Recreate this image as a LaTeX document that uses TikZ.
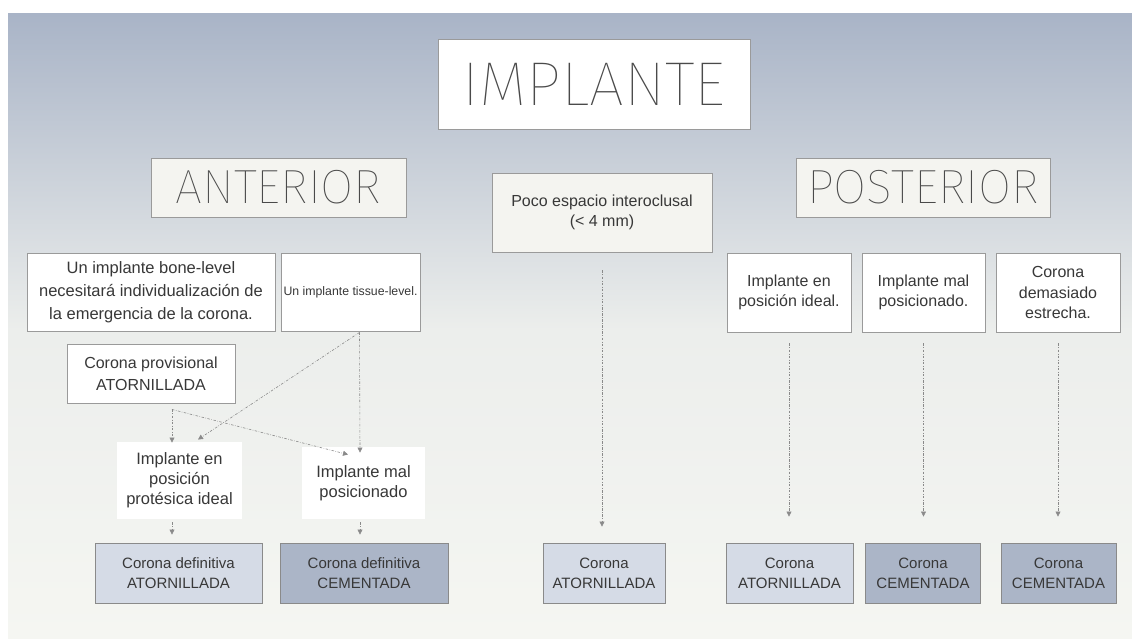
\documentclass[tikz,border=0pt]{standalone}
\usepackage{fontspec}
\usepackage{graphicx}
\setmainfont{Liberation Sans}
\IfFontExistsTF{Fira Sans Thin}{\newfontfamily\thinfont{Fira Sans Thin}}{%
  \IfFontExistsTF{FiraSans-Thin.otf}{\newfontfamily\thinfont{FiraSans-Thin.otf}}{\newfontfamily\thinfont{DejaVu Sans}}}
\usetikzlibrary{arrows.meta, positioning, calc}
\definecolor{bgtop}{HTML}{A9B4C7}
\definecolor{bgmid}{HTML}{ECEEEC}
\definecolor{bgbot}{HTML}{F5F6F2}
\definecolor{boxline}{HTML}{9A9A9A}
\definecolor{offwhite}{HTML}{F4F4F0}
\definecolor{lightblue}{HTML}{D5DBE6}
\definecolor{darkblue}{HTML}{ABB5C7}
\definecolor{textgray}{HTML}{383838}
\definecolor{titlegray}{HTML}{4A4A4A}
\definecolor{arrowgray}{HTML}{8A8A8A}

\tikzset{
  box/.style={draw=boxline, line width=0.9pt, fill=white, align=center, text=textgray,
    inner sep=0pt, font=\fontsize{16}{20.5}\selectfont},
  titlebox/.style={box, fill=offwhite, text=titlegray, font=\thinfont\fontsize{48}{48}\selectfont},
  plain/.style={box, draw=none, font=\fontsize{16.5}{20}\selectfont},
  screwed/.style={box, fill=lightblue, draw=arrowgray, font=\fontsize{15}{20}\selectfont},
  cemented/.style={box, fill=darkblue, draw=arrowgray, font=\fontsize{15}{20}\selectfont},
  conn/.style={->, arrowgray, line width=0.6pt, dash pattern=on 2.5pt off 1.5pt on 0.6pt off 1.5pt}
}

\begin{document}
\begin{tikzpicture}[x=1pt, y=-1pt, >={Triangle[width=5pt,length=5pt]}]
    \useasboundingbox (0,0) rectangle (1132,639);
    \fill[white] (0,0) rectangle (1132,639);
    \shade[top color=bgtop, bottom color=bgmid] (8,14) rectangle (1132,330);
    \shade[top color=bgmid, bottom color=bgbot] (8,330) rectangle (1132,639);

    \node[titlebox, fill=white, minimum width=312pt, minimum height=90pt,
          font=\thinfont\fontsize{62}{62}\selectfont] (implante) at (594,84) {IMPLANTE};
    \node[titlebox, minimum width=255pt, minimum height=59pt] (anterior) at (278.5,187.5) {ANTERIOR};
    \node[titlebox, minimum width=254pt, minimum height=59pt] (posterior) at (923,187.5) {POSTERIOR};
    \node[box, fill=offwhite, minimum width=220pt, minimum height=79pt] (poco) at (602,212.5)
        {Poco espacio interoclusal\\(< 4 mm)};

    \node[box, minimum width=248pt, minimum height=78pt, font=\fontsize{16.5}{23}\selectfont] (bone) at (151,292)
        {Un implante bone-level\\necesitará individualización de\\la emergencia de la corona.};
    \node[box, minimum width=139pt, minimum height=78pt, font=\fontsize{12.3}{15}\selectfont] (tissue) at (350.5,292)
        {Un implante tissue-level.};
    \node[box, minimum width=168pt, minimum height=59pt, font=\fontsize{16}{22}\selectfont] (provis) at (151,373.5)
        {Corona provisional\\ATORNILLADA};
    \node[plain, minimum width=125pt, minimum height=77pt] (ideal) at (179.5,480.5)
        {Implante en\\posición\\protésica ideal};
    \node[plain, minimum width=123pt, minimum height=72pt] (malpos) at (363.5,483)
        {Implante mal\\posicionado};

    \node[box, minimum width=124pt, minimum height=79pt] (pideal) at (789,292.5) {Implante en\\posición ideal.};
    \node[box, minimum width=123pt, minimum height=79pt] (pmal) at (923.5,292.5) {Implante mal\\posicionado.};
    \node[box, minimum width=124pt, minimum height=79pt] (pnarrow) at (1058,292.5) {Corona\\demasiado\\estrecha.};

    \node[screwed, minimum width=167pt, minimum height=60pt] (defat) at (178.5,573) {Corona definitiva\\ATORNILLADA};
    \node[cemented, minimum width=168pt, minimum height=60pt] (defcem) at (364,573) {Corona definitiva\\CEMENTADA};
    \node[screwed, minimum width=122pt, minimum height=60pt] (midat) at (604,573) {Corona\\ATORNILLADA};
    \node[screwed, minimum width=127pt, minimum height=60pt] (postat) at (789.5,573) {Corona\\ATORNILLADA};
    \node[cemented, minimum width=115pt, minimum height=60pt] (postcem) at (923,573) {Corona\\CEMENTADA};
    \node[cemented, minimum width=115pt, minimum height=60pt] (postnar) at (1058.5,573) {Corona\\CEMENTADA};

    \draw[conn, shorten <=18pt, shorten >=16pt] (poco.south) -- (poco.south |- midat.north);
    \draw[conn, shorten <=11pt, shorten >=26pt] (pideal.south) -- (pideal.south |- postat.north);
    \draw[conn, shorten <=11pt, shorten >=26pt] (pmal.south) -- (pmal.south |- postcem.north);
    \draw[conn, shorten <=11pt, shorten >=26pt] (pnarrow.south) -- (pnarrow.south |- postnar.north);

    \draw[conn] ($(provis.south)+(21,6)$) -- ($(ideal.north)+(-7.5,1)$);
    \draw[conn] ($(provis.south)+(21,6)$) -- ($(malpos.north)+(-15.5,8)$);
    \draw[conn] ($(tissue.south)+(9,1)$) -- ($(ideal.north)+(18.5,-2)$);
    \draw[conn] ($(tissue.south)+(9,1)$) -- ($(malpos.north)+(-3.5,6)$);
    \draw[conn] ($(ideal.south)+(-7.5,3)$) -- ($(defat.north)+(-6.5,-8)$);
    \draw[conn] ($(malpos.south)+(-3.5,3)$) -- ($(defcem.north)+(-4,-8)$);
\end{tikzpicture}
\end{document}
